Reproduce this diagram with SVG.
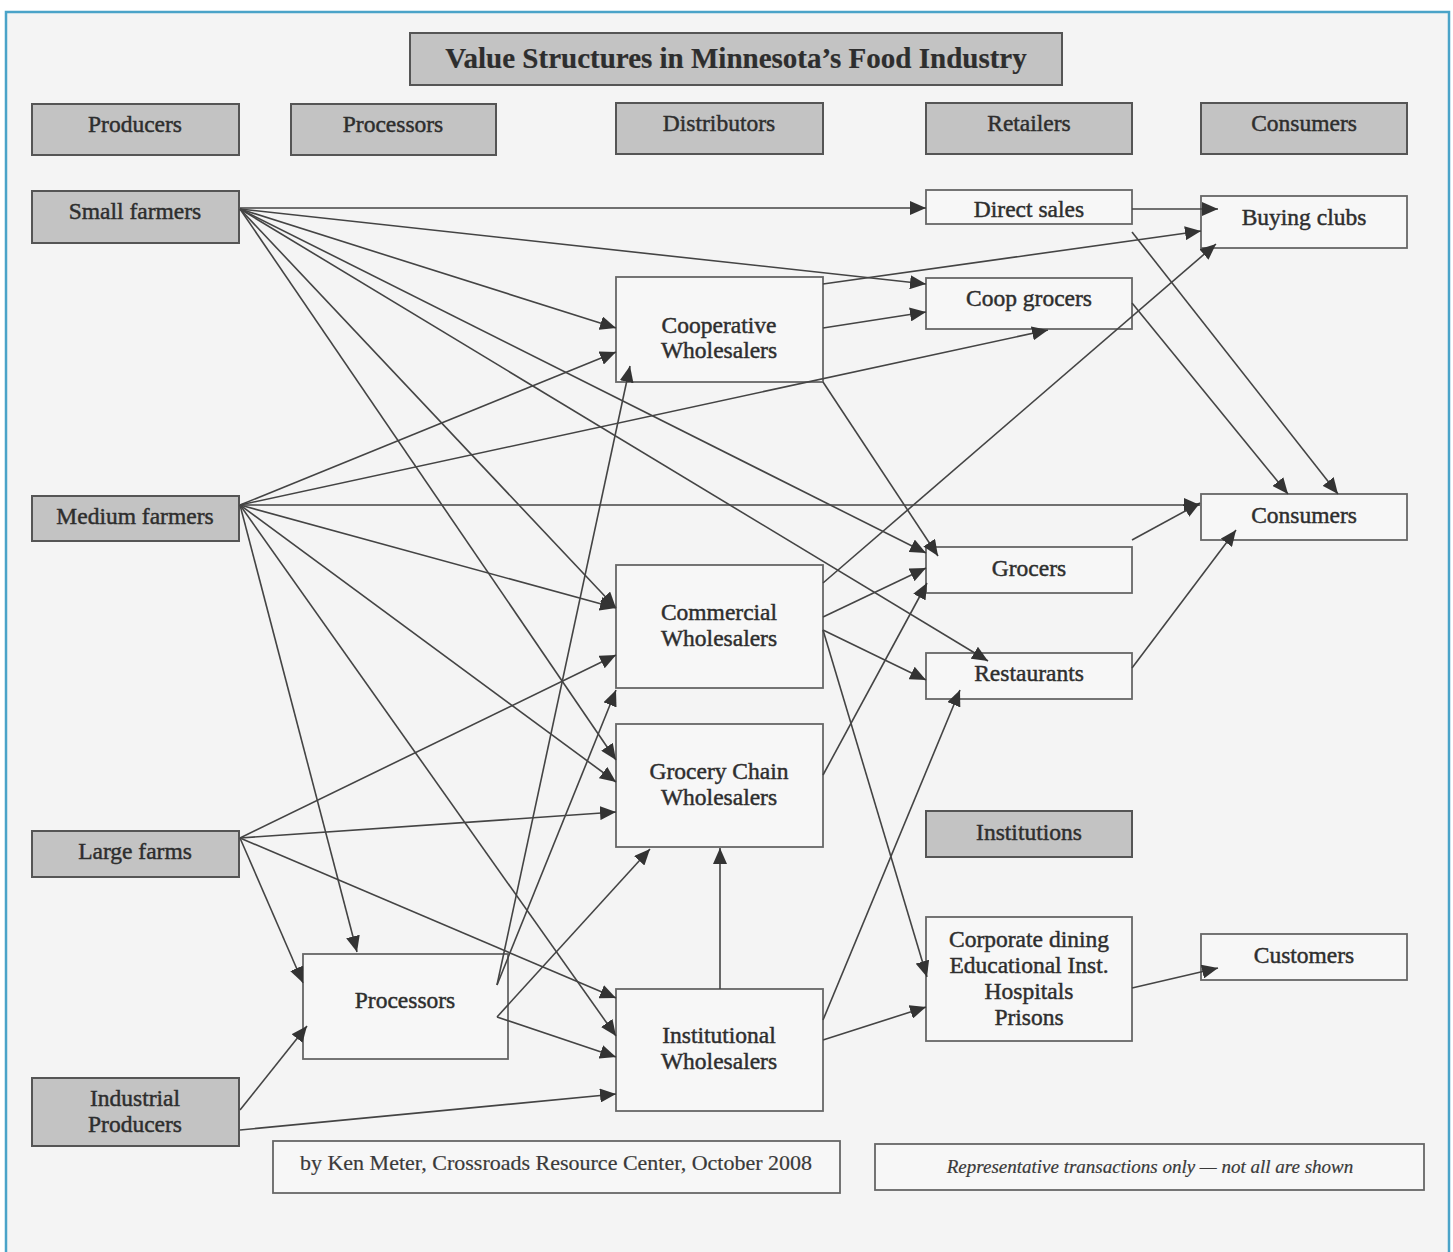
<svg xmlns="http://www.w3.org/2000/svg" width="1453" height="1252" viewBox="0 0 1453 1252">
<defs>
<marker id="ah" markerUnits="userSpaceOnUse" markerWidth="18" markerHeight="14" refX="16" refY="7" orient="auto">
<path d="M0,0 L16,7 L0,14 Z" fill="#333"/>
</marker>
<style>
.g{fill:#c3c3c3;stroke:#555;stroke-width:2}
.w{fill:#f7f7f7;stroke:#666;stroke-width:1.8}
.t{font-family:"Liberation Serif","Times New Roman",serif;font-size:23.5px;fill:#2e2e2e;stroke:#2e2e2e;stroke-width:0.45;text-anchor:middle;dominant-baseline:central}
.ti{font-size:29px;font-weight:bold;stroke-width:0.2}
.cr{font-size:22px;stroke-width:0.2;fill:#3a3a3a;stroke:#3a3a3a}
.nt{font-size:19px;font-style:italic;stroke-width:0.2;fill:#3a3a3a;stroke:#3a3a3a}
.c line{stroke:#444;stroke-width:1.6;marker-end:url(#ah)}
</style>
</defs>
<rect x="0" y="0" width="1453" height="1252" fill="#ffffff"/>
<rect x="6" y="12" width="1443" height="1250" fill="#f4f4f4" stroke="#4aa3c8" stroke-width="2.5"/>

<g id="title"><rect class="g" x="410" y="33" width="652" height="52"/><text class="t ti" x="736" y="58">Value Structures in Minnesota’s Food Industry</text></g>

<g id="hdr-producers"><rect class="g" x="32" y="104" width="207" height="51"/><text class="t" x="135" y="124">Producers</text></g>
<g id="hdr-processors"><rect class="g" x="291" y="104" width="205" height="51"/><text class="t" x="393" y="124">Processors</text></g>
<g id="hdr-distributors"><rect class="g" x="616" y="103" width="207" height="51"/><text class="t" x="719" y="123">Distributors</text></g>
<g id="hdr-retailers"><rect class="g" x="926" y="103" width="206" height="51"/><text class="t" x="1029" y="123">Retailers</text></g>
<g id="hdr-consumers"><rect class="g" x="1201" y="103" width="206" height="51"/><text class="t" x="1304" y="123">Consumers</text></g>

<g id="small-farmers"><rect class="g" x="32" y="191" width="207" height="52"/><text class="t" x="135" y="211">Small farmers</text></g>
<g id="medium-farmers"><rect class="g" x="32" y="496" width="207" height="45"/><text class="t" x="135" y="516">Medium farmers</text></g>
<g id="large-farms"><rect class="g" x="32" y="831" width="207" height="46"/><text class="t" x="135" y="851">Large farms</text></g>
<g id="industrial-producers"><rect class="g" x="32" y="1078" width="207" height="68"/><text class="t" x="135" y="1098">Industrial</text><text class="t" x="135" y="1124">Producers</text></g>

<g id="processors"><rect class="w" x="303" y="954" width="205" height="105"/><text class="t" x="405" y="1000">Processors</text></g>

<g id="cooperative-wholesalers"><rect class="w" x="616" y="277" width="207" height="105"/><text class="t" x="719" y="325">Cooperative</text><text class="t" x="719" y="350">Wholesalers</text></g>
<g id="commercial-wholesalers"><rect class="w" x="616" y="565" width="207" height="123"/><text class="t" x="719" y="612">Commercial</text><text class="t" x="719" y="638">Wholesalers</text></g>
<g id="grocery-chain-wholesalers"><rect class="w" x="616" y="724" width="207" height="123"/><text class="t" x="719" y="771">Grocery Chain</text><text class="t" x="719" y="797">Wholesalers</text></g>
<g id="institutional-wholesalers"><rect class="w" x="616" y="989" width="207" height="122"/><text class="t" x="719" y="1035">Institutional</text><text class="t" x="719" y="1061">Wholesalers</text></g>

<g id="direct-sales"><rect class="w" x="926" y="190" width="206" height="34"/><text class="t" x="1029" y="209">Direct sales</text></g>
<g id="coop-grocers"><rect class="w" x="926" y="278" width="206" height="51"/><text class="t" x="1029" y="298">Coop grocers</text></g>
<g id="grocers"><rect class="w" x="926" y="547" width="206" height="46"/><text class="t" x="1029" y="568">Grocers</text></g>
<g id="restaurants"><rect class="w" x="926" y="653" width="206" height="46"/><text class="t" x="1029" y="673">Restaurants</text></g>
<g id="institutions"><rect class="g" x="926" y="811" width="206" height="46"/><text class="t" x="1029" y="832">Institutions</text></g>
<g id="institution-types"><rect class="w" x="926" y="917" width="206" height="124"/><text class="t" x="1029" y="939">Corporate dining</text><text class="t" x="1029" y="965">Educational Inst.</text><text class="t" x="1029" y="991">Hospitals</text><text class="t" x="1029" y="1017">Prisons</text></g>

<g id="buying-clubs"><rect class="w" x="1201" y="196" width="206" height="52"/><text class="t" x="1304" y="217">Buying clubs</text></g>
<g id="consumers"><rect class="w" x="1201" y="494" width="206" height="46"/><text class="t" x="1304" y="515">Consumers</text></g>
<g id="customers"><rect class="w" x="1201" y="934" width="206" height="46"/><text class="t" x="1304" y="955">Customers</text></g>

<g id="credit"><rect class="w" x="273" y="1141" width="567" height="52"/><text class="t cr" x="556" y="1162">by Ken Meter, Crossroads Resource Center, October 2008</text></g>
<g id="note"><rect class="w" x="875" y="1144" width="549" height="46"/><text class="t nt" x="1150" y="1166">Representative transactions only — not all are shown</text></g>

<g class="c" id="connectors">
<line x1="240" y1="208" x2="926" y2="208"/>
<line x1="240" y1="209" x2="926" y2="284"/>
<line x1="240" y1="209" x2="616" y2="328"/>
<line x1="240" y1="209" x2="926" y2="553"/>
<line x1="240" y1="209" x2="988" y2="661"/>
<line x1="240" y1="209" x2="616" y2="608"/>
<line x1="240" y1="209" x2="616" y2="760"/>
<line x1="240" y1="505" x2="616" y2="352"/>
<line x1="240" y1="505" x2="1048" y2="330"/>
<line x1="240" y1="505" x2="1200" y2="505"/>
<line x1="240" y1="505" x2="616" y2="608"/>
<line x1="240" y1="505" x2="616" y2="782"/>
<line x1="240" y1="505" x2="357" y2="952"/>
<line x1="240" y1="505" x2="616" y2="1036"/>
<line x1="240" y1="838" x2="616" y2="655"/>
<line x1="240" y1="838" x2="616" y2="812"/>
<line x1="240" y1="838" x2="303" y2="983"/>
<line x1="240" y1="838" x2="616" y2="998"/>
<line x1="240" y1="1110" x2="307" y2="1026"/>
<line x1="240" y1="1130" x2="616" y2="1094"/>
<line x1="497" y1="985" x2="630" y2="366"/>
<line x1="497" y1="985" x2="616" y2="690"/>
<line x1="497" y1="1017" x2="650" y2="849"/>
<line x1="497" y1="1017" x2="616" y2="1057"/>
<line x1="823" y1="284" x2="1201" y2="231"/>
<line x1="823" y1="328" x2="926" y2="312"/>
<line x1="823" y1="382" x2="938" y2="556"/>
<line x1="823" y1="583" x2="1216" y2="244"/>
<line x1="823" y1="617" x2="926" y2="568"/>
<line x1="823" y1="630" x2="926" y2="680"/>
<line x1="823" y1="630" x2="927" y2="977"/>
<line x1="823" y1="775" x2="927" y2="583"/>
<line x1="720" y1="989" x2="720" y2="848"/>
<line x1="823" y1="1020" x2="960" y2="690"/>
<line x1="823" y1="1040" x2="926" y2="1007"/>
<line x1="1132" y1="209" x2="1218" y2="209"/>
<line x1="1132" y1="232" x2="1338" y2="494"/>
<line x1="1132" y1="303" x2="1288" y2="494"/>
<line x1="1132" y1="540" x2="1200" y2="503"/>
<line x1="1132" y1="668" x2="1236" y2="530"/>
<line x1="1132" y1="988" x2="1218" y2="968"/>
</g>
</svg>
